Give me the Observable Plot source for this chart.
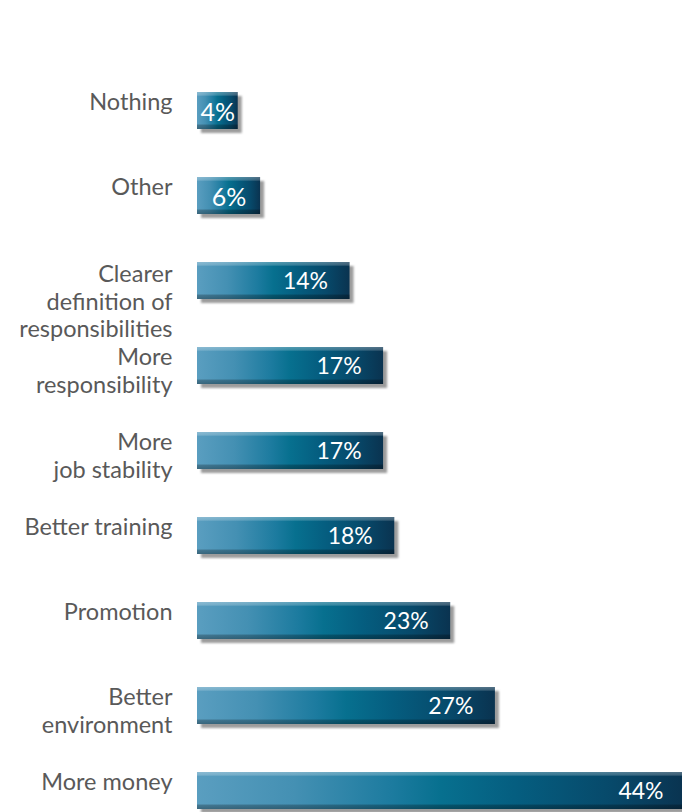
<!DOCTYPE html>
<html>
<head>
<meta charset="utf-8">
<script src="https://cdn.jsdelivr.net/npm/d3@7"></script>
<script src="https://cdn.jsdelivr.net/npm/@observablehq/plot@0.6"></script>
<style>
  html, body { margin: 0; padding: 0; background: #ffffff; overflow: hidden; }
</style>
</head>
<body>
<div id="chart"></div>
<script>
// ---- data ----
const categories = [
  "Nothing",
  "Other",
  "Clearer\ndefinition of\nresponsibilities",
  "More\nresponsibility",
  "More\njob stability",
  "Better training",
  "Promotion",
  "Better\nenvironment",
  "More money"
];
const values = [4, 6, 14, 17, 17, 18, 23, 27, 44];
const valueLabels = ["4%", "6%", "14%", "17%", "17%", "18%", "23%", "27%", "44%"];

const data = categories.map((c, i) => ({category: c, value: values[i], label: valueLabels[i], lines: c.split("\n").length}));

const plot = Plot.plot({
  width: 682,
  height: 812,
  marginLeft: 0, marginRight: 0, marginTop: 0, marginBottom: 0,
  style: {fontFamily: "Lato, 'Open Sans', sans-serif", background: "#ffffff", overflow: "hidden"},
  x: {domain: [0, 44], range: [193, 685], axis: null},
  y: {domain: categories, range: [64.6, 835.9], paddingInner: 0.568, paddingOuter: 0.284, axis: null},
  marks: [
    // drop shadow
    Plot.barX(data, {y: "category", x: "value", insetLeft: 4, dx: 4, dy: 4, fill: "#9c9c9c"}),
    // gradient body
    Plot.barX(data, {y: "category", x: "value", insetLeft: 4, fill: "url(#barGrad)"}),
    // top highlight / bottom edge shading
    Plot.barX(data, {y: "category", x: "value", insetLeft: 4, fill: "url(#barShade)"}),
    // category labels
    Plot.text(data.filter(d => d.lines < 3), {
      y: "category", x: 0, text: "category", textAnchor: "end", lineAnchor: "top",
      dx: -21, dy: -20, fontSize: 23.5, fill: "#595959", lineHeight: 1.16
    }),
    Plot.text(data.filter(d => d.lines >= 3), {
      y: "category", x: 0, text: "category", textAnchor: "end", lineAnchor: "top",
      dx: -21, dy: -18, fontSize: 23.5, fill: "#595959", lineHeight: 1.16
    }),
    // value labels
    Plot.text(data.filter(d => d.value >= 10), {
      y: "category", x: "value", text: "label", textAnchor: "end",
      dx: -22, dy: 1, fill: "#ffffff", fontSize: 23
    }),
    Plot.text(data.filter(d => d.value < 10), {
      y: "category", x: d => d.value / 2, text: "label", textAnchor: "middle",
      dx: 2, dy: 2, fill: "#ffffff", fontSize: 25
    })
  ]
});

const svg = d3.select(plot);
const defs = svg.insert("defs", ":first-child");
const grad = defs.append("linearGradient").attr("id", "barGrad")
  .attr("x1", 0).attr("x2", 1).attr("y1", 0).attr("y2", 0);
[
  [0, "#5a9ec0"],
  [0.2, "#4490b3"],
  [0.4, "#1c7b9f"],
  [0.5, "#07708f"],
  [0.65, "#055e80"],
  [0.85, "#07496a"],
  [1, "#0a3350"]
].forEach(([o, c]) => grad.append("stop").attr("offset", o).attr("stop-color", c));

const shade = defs.append("linearGradient").attr("id", "barShade")
  .attr("x1", 0).attr("x2", 0).attr("y1", 0).attr("y2", 1);
[
  [0, "#ffffff", 0.3],
  [0.08, "#ffffff", 0.2],
  [0.12, "#ffffff", 0.0],
  [0.86, "#000000", 0.0],
  [0.9, "#000000", 0.25],
  [1, "#000000", 0.35]
].forEach(([o, c, a]) => shade.append("stop").attr("offset", o).attr("stop-color", c).attr("stop-opacity", a));

defs.append("filter").attr("id", "shadowBlur")
  .attr("x", "-5%").attr("y", "-5%").attr("width", "110%").attr("height", "110%")
  .append("feGaussianBlur").attr("stdDeviation", 1.3);
svg.select('g[aria-label="bar"]').attr("filter", "url(#shadowBlur)");

document.getElementById("chart").appendChild(plot);
</script>
</body>
</html>
